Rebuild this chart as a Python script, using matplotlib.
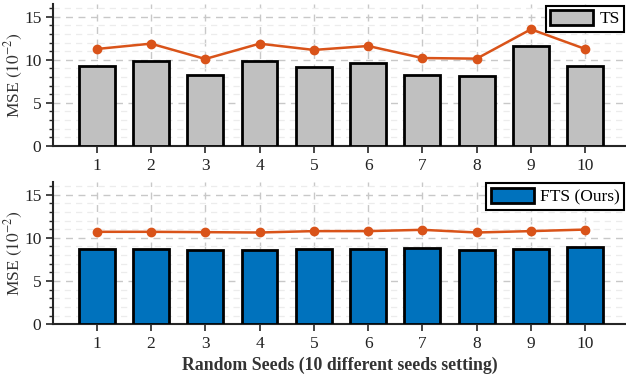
import numpy as np
import matplotlib
matplotlib.use("Agg")
import matplotlib.pyplot as plt
from matplotlib.ticker import MultipleLocator

# ------------------------------------------
# Data (MSE, units of 1e-2)
# ------------------------------------------
seeds = [1, 2, 3, 4, 5, 6, 7, 8, 9, 10]
ts_bars = [9.28, 9.9, 8.2, 9.9, 9.13, 9.6, 8.24, 8.16, 11.57, 9.24]
ts_line = [11.25, 11.87, 10.09, 11.87, 11.14, 11.6, 10.2, 10.13, 13.54, 11.25]
fts_bars = [8.69, 8.69, 8.65, 8.61, 8.76, 8.76, 8.88, 8.61, 8.76, 8.92]
fts_line = [10.7, 10.7, 10.66, 10.62, 10.78, 10.78, 10.93, 10.62, 10.78, 10.96]

plt.rcParams['font.family'] = ['Liberation Serif', 'DejaVu Serif']
plt.rcParams['mathtext.fontset'] = 'stix'

orange = "#D95319"
spine_col = "#262626"

fig = plt.figure(figsize=(6.26, 3.77), dpi=100)
ax1 = fig.add_axes([0.085, 0.613, 0.915, 0.377])
ax2 = fig.add_axes([0.085, 0.140, 0.915, 0.378])


def style_axes(ax, bars, line, color, label):
    ax.bar(seeds, bars, width=0.66, color=color, edgecolor="black",
           linewidth=2, label=label, zorder=3)
    ax.plot(seeds, line, color=orange, linewidth=1.8, marker="o",
            markersize=6, zorder=4)
    ax.set_xlim(0.2, 10.75)
    ax.set_ylim(0, 16.5)
    ax.set_xticks(seeds)
    ax.yaxis.set_major_locator(MultipleLocator(5))
    ax.yaxis.set_minor_locator(MultipleLocator(1))
    ax.grid(which="major", linestyle=(0, (5, 4)), color="#c8c8c8", linewidth=1.0, zorder=0)
    ax.grid(which="minor", axis="y", linestyle=(0, (5, 4)), color="#ececec", linewidth=0.9, zorder=0)
    for s in ["top", "right"]:
        ax.spines[s].set_visible(False)
    for s in ["left", "bottom"]:
        ax.spines[s].set_color(spine_col)
        ax.spines[s].set_linewidth(1.5)
    ax.tick_params(which="major", direction="out", length=5, width=1.2,
                   colors=spine_col, labelsize=12.5, labelcolor="#222222")
    ax.tick_params(which="minor", direction="out", length=3, width=1.0, colors=spine_col)
    ax.tick_params(axis="x", which="minor", bottom=False)
    ax.set_ylabel(r"MSE $(10^{-2})$", fontsize=12.5, color="#333333", labelpad=-1)
    leg = ax.legend(loc="upper right", fontsize=12.5, frameon=True, fancybox=False,
                    handlelength=2.5, handleheight=0.95, borderpad=0.25,
                    handletextpad=0.35, borderaxespad=0.1)
    leg.get_frame().set_edgecolor("black")
    leg.get_frame().set_linewidth(1.5)
    leg.get_frame().set_alpha(1)


style_axes(ax1, ts_bars, ts_line, "#C0C0C0", "TS")
style_axes(ax2, fts_bars, fts_line, "#0072BD", "FTS (Ours)")

ax2.set_xlabel("Random Seeds (10 different seeds setting)", fontsize=12.8,
               fontweight="bold", color="#333333", labelpad=3)

plt.savefig("out.png", dpi=100)
plt.close()
